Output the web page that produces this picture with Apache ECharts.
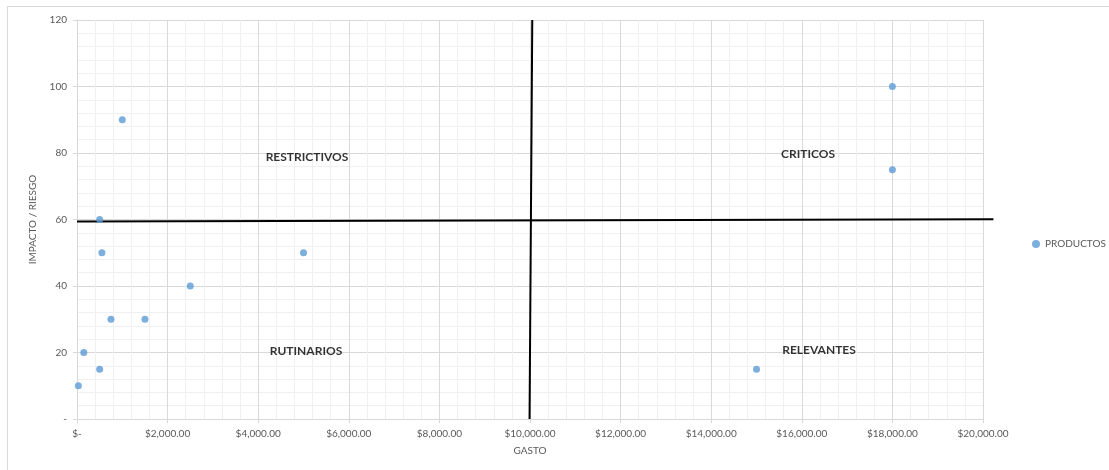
<!DOCTYPE html>
<html><head><meta charset="utf-8">
<script src="https://cdn.jsdelivr.net/npm/echarts@6/dist/echarts.min.js"></script>
<style>html,body{margin:0;padding:0;background:#fff}#c{width:1109px;height:470px}</style>
</head><body><div id="c"></div>
<script>
const gasto   = [30, 150, 500, 500, 550, 750, 1000, 1500, 2500, 5000, 15000, 18000, 18000];
const impacto = [10, 20, 15, 60, 50, 30, 90, 30, 40, 50, 15, 100, 75];
const seriesName = 'PRODUCTOS';
const xTitle = 'GASTO';
const yTitle = 'IMPACTO / RIESGO';
const hLineX = [0, 20230];
const hLineY = [59.4, 60.1];
const vLineX = [10050, 9990];
const vLineY = [120, 0];
const quadNames = ['RESTRICTIVOS', 'CRITICOS', 'RUTINARIOS', 'RELEVANTES'];
const quadX = [5077, 16137, 5055, 16380];
const quadY = [78.8, 79.7, 20.5, 20.8];

const font = 'Lato, "Liberation Sans", sans-serif';
const chart = echarts.init(document.getElementById('c'), null, {renderer: 'canvas'});
const pts = gasto.map((g, i) => [g, impacto[i]]);
const border = {type: 'rect', shape: {x: 7.5, y: 6.5, width: 1110, height: 470}, style: {fill: 'none', stroke: '#d9d9d9', lineWidth: 1}, silent: true};
chart.setOption({
  animation: false,
  backgroundColor: '#fff',
  graphic: [border],
  legend: {data: [seriesName], left: 1027, top: 234, icon: 'circle', itemWidth: 8, itemHeight: 8, itemGap: 3,
    textStyle: {fontFamily: font, fontSize: 10, color: '#595959'}},
  grid: {left: 77, right: 126, top: 20, bottom: 51},
  xAxis: {type: 'value', min: 0, max: 20000, interval: 2000,
    name: xTitle, nameLocation: 'middle', nameGap: 27,
    nameTextStyle: {fontFamily: font, fontSize: 10, color: '#595959'},
    axisLine: {show: true, lineStyle: {color: '#d9d9d9'}},
    axisTick: {show: true, length: 4, lineStyle: {color: '#d9d9d9'}},
    axisLabel: {fontFamily: font, fontSize: 10, color: '#595959', margin: 10,
      formatter: v => v === 0 ? '$-' : '$' + v.toLocaleString('en-US', {minimumFractionDigits: 2, maximumFractionDigits: 2})},
    splitLine: {show: true, lineStyle: {color: '#d9d9d9'}},
    minorTick: {show: false, splitNumber: 5},
    minorSplitLine: {show: true, lineStyle: {color: '#f0f0f0'}}},
  yAxis: {type: 'value', min: 0, max: 120, interval: 20,
    name: yTitle, nameLocation: 'middle', nameGap: 39, nameRotate: 90,
    nameTextStyle: {fontFamily: font, fontSize: 10, color: '#595959'},
    axisLine: {show: true, lineStyle: {color: '#d9d9d9'}},
    axisTick: {show: true, length: 4, lineStyle: {color: '#d9d9d9'}},
    axisLabel: {fontFamily: font, fontSize: 10, color: '#595959', margin: 10,
      formatter: v => v === 0 ? '-' : String(v)},
    splitLine: {show: true, lineStyle: {color: '#d9d9d9'}},
    minorTick: {show: false, splitNumber: 5},
    minorSplitLine: {show: true, lineStyle: {color: '#f0f0f0'}}},
  series: [
    {name: seriesName, type: 'scatter', data: pts, symbolSize: 7, itemStyle: {color: '#5b9bd5'}, z: 5},
    {name: 'q', type: 'scatter', data: quadNames.map((n, i) => ({value: [quadX[i], quadY[i]], name: n})),
      symbolSize: 0, silent: true, z: 6,
      label: {show: true, position: 'inside', formatter: p => p.name, fontFamily: font, fontWeight: 'bold', fontSize: 12, color: '#000'}}
  ]
});
// quadrant divider lines, positioned through the chart's own scales
function seg(xs, ys) {
  const a = chart.convertToPixel({gridIndex: 0}, [xs[0], ys[0]]);
  const b = chart.convertToPixel({gridIndex: 0}, [xs[1], ys[1]]);
  return {type: 'line', shape: {x1: a[0], y1: a[1], x2: b[0], y2: b[1]}, style: {stroke: '#000', lineWidth: 2}, z: 4, silent: true};
}
chart.setOption({graphic: [border, seg(hLineX, hLineY), seg(vLineX, vLineY)]});
</script></body></html>
